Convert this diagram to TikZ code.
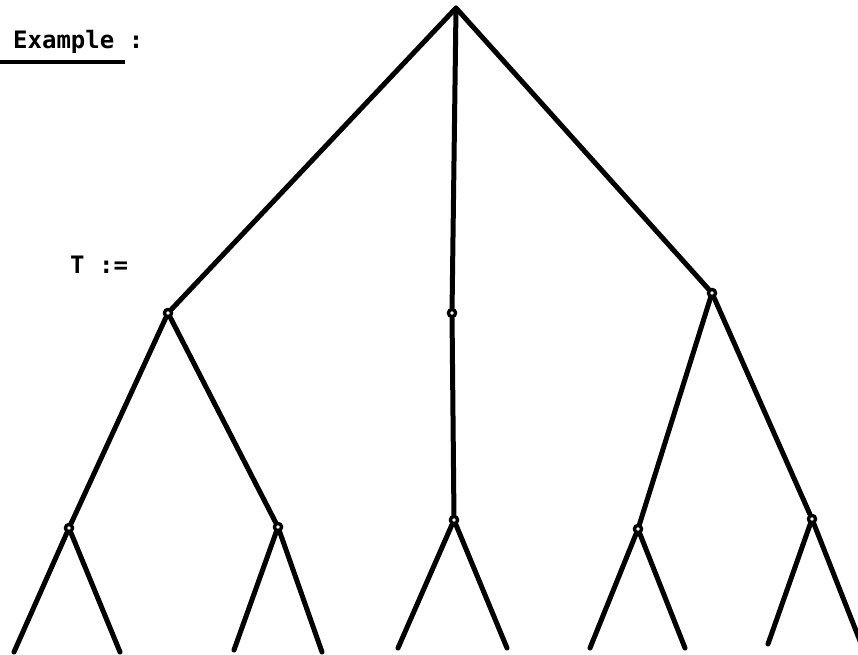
\documentclass[tikz,border=0pt]{standalone}
\usepackage{fontspec}
\newfontfamily\printfont{DejaVu Sans Mono}
\begin{document}
\begin{tikzpicture}[x=1pt,y=-1pt,
  edge/.style={line width=5pt,line cap=round,line join=round},
  vert/.style={circle,draw,fill=white,line width=3.2pt,minimum size=7pt,inner sep=0pt},
  lbl/.style={anchor=base west,inner sep=0pt,font=\printfont\bfseries\fontsize{24}{28}\selectfont}]
\useasboundingbox (0,0) rectangle (858,654);
% labels
\node[lbl] (ex) at (13,48) {Example :};
\coordinate (ul1) at (0,62);
\coordinate (ul2) at (125,62);
\draw[line width=3.5pt] (ul1) -- (ul2);
\node[lbl] (tdef) at (70,273) {T :=};
% tree coordinates
\coordinate (R) at (456,8);
\node[vert] (A) at (168,313) {};
\node[vert] (B) at (452,313) {};
\node[vert] (C) at (712,293) {};
\node[vert] (A1) at (69,528) {};
\node[vert] (A2) at (278,527) {};
\node[vert] (B1) at (454,520) {};
\node[vert] (C1) at (638,529) {};
\node[vert] (C2) at (812,519) {};
\coordinate (l1) at (14,652);
\coordinate (l2) at (120,652);
\coordinate (l3) at (234,650);
\coordinate (l4) at (322,652);
\coordinate (l5) at (398,648);
\coordinate (l6) at (507,648);
\coordinate (l7) at (590,648);
\coordinate (l8) at (685,648);
\coordinate (l9) at (768,644);
\coordinate (l10) at (862,646);
% edges
\draw[edge] (A) -- (R) -- (C);
\draw[edge] (R) -- (B);
\draw[edge] (A) -- (A1);
\draw[edge] (A) -- (A2);
\draw[edge] (B) -- (B1);
\draw[edge] (C) -- (C1);
\draw[edge] (C) -- (C2);
\draw[edge] (A1) -- (l1);
\draw[edge] (A1) -- (l2);
\draw[edge] (A2) -- (l3);
\draw[edge] (A2) -- (l4);
\draw[edge] (B1) -- (l5);
\draw[edge] (B1) -- (l6);
\draw[edge] (C1) -- (l7);
\draw[edge] (C1) -- (l8);
\draw[edge] (C2) -- (l9);
\draw[edge] (C2) -- (l10);
% redraw vertices on top
\foreach \v in {A,B,C,A1,A2,B1,C1,C2}{
  \node[vert] at (\v) {};
}
\end{tikzpicture}
\end{document}
